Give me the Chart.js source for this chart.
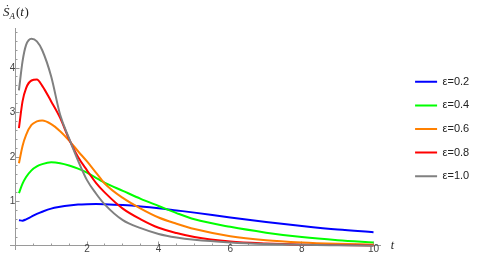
<!DOCTYPE html>
<html><head><meta charset="utf-8">
<script src="https://cdn.jsdelivr.net/npm/chart.js@4.4.1/dist/chart.umd.min.js"></script>
<style>html,body{margin:0;padding:0;background:#fff}canvas{display:block}</style>
</head><body>
<canvas id="c" width="486" height="260"></canvas>
<script>
const tValues = [0.1,0.2,0.3,0.45,0.6,0.75,1,1.25,1.5,1.75,2,2.25,2.5,3,3.5,4,4.5,5,6,7,8,9,10];
const eps02 = [0.58,0.57,0.60,0.66,0.72,0.77,0.84,0.88,0.91,0.93,0.94,0.945,0.94,0.92,0.89,0.85,0.80,0.75,0.64,0.54,0.45,0.37,0.31];
const eps04 = [1.19,1.40,1.55,1.70,1.79,1.84,1.88,1.86,1.81,1.74,1.65,1.53,1.42,1.24,1.06,0.90,0.74,0.60,0.43,0.30,0.20,0.13,0.08];
const eps06 = [1.86,2.25,2.50,2.72,2.80,2.82,2.74,2.58,2.37,2.13,1.90,1.65,1.40,1.08,0.84,0.64,0.50,0.38,0.22,0.13,0.08,0.05,0.03];
const eps08 = [2.65,3.25,3.55,3.72,3.74,3.60,3.25,2.88,2.40,2.00,1.70,1.42,1.20,0.84,0.60,0.41,0.29,0.20,0.10,0.055,0.03,0.02,0.01];
const eps10 = [3.50,4.15,4.52,4.66,4.60,4.40,3.81,2.95,2.42,1.92,1.48,1.18,0.93,0.58,0.40,0.27,0.19,0.14,0.08,0.045,0.025,0.015,0.008];
const seriesLabels = ['ε=0.2','ε=0.4','ε=0.6','ε=0.8','ε=1.0'];
const xTickLabels = [2,4,6,8,10];
const yTickLabels = [1,2,3,4];

const seriesValues = [eps02, eps04, eps06, eps08, eps10];
const colors = ['#0000ff','#00ff00','#ff8000','#ff0000','#808080'];

const datasets = seriesValues.map((vals, i) => ({
  label: seriesLabels[i],
  data: tValues.map((t, k) => ({x: t, y: vals[k]})),
  borderColor: colors[i],
  backgroundColor: colors[i],
  borderWidth: 2,
  pointRadius: 0,
  cubicInterpolationMode: 'monotone',
  order: 5 - i,
  xAxisID: 'x',
  yAxisID: 'y'
}));

const XMIN = -0.15, XMAX = 10.2, YMIN = -0.079, YMAX = 4.9;
const axisColor = '#9a9a9a';
const tickFont = {family: '"Liberation Sans", Arial, sans-serif', size: 10, lineHeight: 0.1};

function minorList(step, max) {
  const out = [];
  for (let k = 1; k * step <= max + 1e-9; k++) out.push(+(k * step).toFixed(4));
  return out;
}

const axisText = {
  id: 'axisText',
  afterDraw(chart) {
    const ctx = chart.ctx, xs = chart.scales.x, ys = chart.scales.y;
    ctx.save();
    ctx.fillStyle = '#222';
    ctx.textBaseline = 'alphabetic';
    let x = 3, y = 16;
    ctx.font = 'italic 13px "Liberation Serif", serif';
    ctx.fillText('Ṡ', x, y); x += ctx.measureText('Ṡ').width;
    ctx.font = 'italic 9px "Liberation Serif", serif';
    ctx.fillText('A', x, y + 3); x += ctx.measureText('A').width + 1;
    ctx.font = '13px "Liberation Serif", serif';
    ctx.fillText('(', x, y); x += ctx.measureText('(').width;
    ctx.font = 'italic 13px "Liberation Serif", serif';
    ctx.fillText('t', x, y); x += ctx.measureText('t').width + 0.5;
    ctx.font = '13px "Liberation Serif", serif';
    ctx.fillText(')', x, y);
    ctx.font = 'italic 12px "Liberation Serif", serif';
    ctx.fillText('t', xs.right + 10, ys.getPixelForValue(0) + 3);
    ctx.restore();
  }
};

new Chart(document.getElementById('c'), {
  type: 'line',
  data: {datasets},
  options: {
    responsive: false,
    animation: false,
    layout: {padding: {top: 28, left: 10, right: 6.8, bottom: 4}},
    plugins: {
      legend: {
        position: 'right',
        align: 'start',
        maxWidth: 120,
        title: {display: true, text: '', font: {size: 1}, padding: {top: 34.5, bottom: 0}},
        labels: {
          usePointStyle: true,
          pointStyle: 'line',
          pointStyleWidth: 22,
          padding: 12.6,
          color: '#222',
          font: {family: '"Liberation Sans", Arial, sans-serif', size: 11},
          sort: (a, b) => a.datasetIndex - b.datasetIndex
        }
      },
      tooltip: {enabled: false}
    },
    scales: {
      x: {
        type: 'linear', position: {y: 0}, min: XMIN, max: XMAX,
        afterBuildTicks: s => { s.ticks = xTickLabels.map(v => ({value: v})); },
        grid: {drawOnChartArea: false, drawTicks: true, tickLength: -4.5, color: axisColor, tickColor: axisColor},
        border: {display: true, color: axisColor, width: 1},
        ticks: {padding: 7, color: '#444', font: tickFont, maxRotation: 0, autoSkip: false}
      },
      xMinor: {
        type: 'linear', position: {y: 0}, min: XMIN, max: XMAX,
        afterBuildTicks: s => { s.ticks = minorList(0.5, 10).map(v => ({value: v})); },
        grid: {drawOnChartArea: false, drawTicks: true, tickLength: -2.5, color: axisColor, tickColor: axisColor},
        border: {display: false},
        ticks: {display: false, autoSkip: false}
      },
      y: {
        type: 'linear', position: {x: 0}, min: YMIN, max: YMAX,
        afterBuildTicks: s => { s.ticks = yTickLabels.map(v => ({value: v})); },
        grid: {drawOnChartArea: false, drawTicks: true, tickLength: -4.5, color: axisColor, tickColor: axisColor},
        border: {display: true, color: axisColor, width: 1},
        ticks: {padding: 10, color: '#444', font: tickFont, autoSkip: false}
      },
      yMinor: {
        type: 'linear', position: {x: 0}, min: YMIN, max: YMAX,
        afterBuildTicks: s => { s.ticks = minorList(0.2, 4.8).map(v => ({value: v})); },
        grid: {drawOnChartArea: false, drawTicks: true, tickLength: -2.5, color: axisColor, tickColor: axisColor},
        border: {display: false},
        ticks: {display: false, autoSkip: false}
      },
      gap: {
        type: 'linear', position: 'right', display: true,
        afterFit: s => { s.width = 21.8; },
        grid: {display: false, drawTicks: false},
        border: {display: false},
        ticks: {display: false}
      }
    }
  },
  plugins: [axisText]
});
</script>
</body></html>
